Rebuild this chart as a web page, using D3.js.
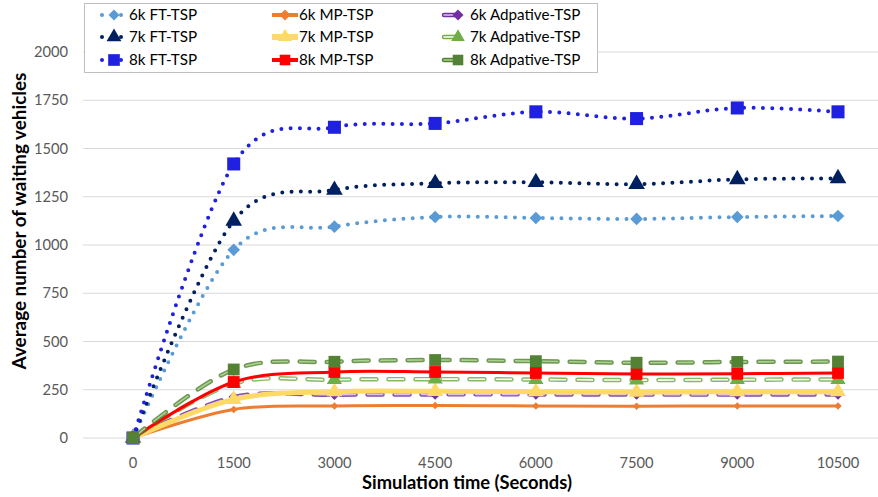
<!DOCTYPE html>
<html>
<head>
<meta charset="utf-8">
<script src="https://cdn.jsdelivr.net/npm/d3@7"></script>
<style>
  body { margin: 0; background: #fff; }
  text { font-family: Lato, "Open Sans", sans-serif; }
</style>
</head>
<body>
<svg id="chart"></svg>
<script>
const width = 878;
const height = 497;

// data
const times = ["0", "1500", "3000", "4500", "6000", "7500", "9000", "10500"];
const yTicks = [0, 250, 500, 750, 1000, 1250, 1500, 1750, 2000];

const ft6k = [0, 975, 1095, 1145, 1140, 1135, 1145, 1150];
const ft7k = [0, 1125, 1285, 1320, 1325, 1315, 1340, 1345];
const ft8k = [0, 1420, 1610, 1630, 1690, 1655, 1710, 1690];
const mp6k = [0, 148, 166, 168, 166, 165, 166, 166];
const mp7k = [0, 200, 240, 242, 240, 238, 240, 240];
const mp8k = [0, 290, 342, 342, 337, 332, 333, 337];
const ad6k = [0, 212, 224, 226, 226, 225, 225, 226];
const ad7k = [0, 282, 302, 305, 303, 300, 302, 303];
const ad8k = [0, 355, 395, 404, 398, 390, 394, 396];

const seriesNames = ["6k FT-TSP", "6k MP-TSP", "6k Adpative-TSP",
                     "7k FT-TSP", "7k MP-TSP", "7k Adpative-TSP",
                     "8k FT-TSP", "8k MP-TSP", "8k Adpative-TSP"];
const seriesValues = [ft6k, mp6k, ad6k, ft7k, mp7k, ad7k, ft8k, mp8k, ad8k];

// style per series (same order as names)
const styles = [
  {kind: "dot",  color: "#5b9bd5", marker: "diamond",  size: 80},
  {kind: "line", color: "#ed7d31", marker: "diamond",  size: 28, w: 3},
  {kind: "dash", color: "#7030a0", inner: "#d9c3e8", marker: "diamond", size: 55},
  {kind: "dot",  color: "#002060", marker: "triangle", size: 120},
  {kind: "line", color: "#ffd966", marker: "triangle", size: 110, w: 5},
  {kind: "dash", color: "#70ad47", inner: "#ffffff", marker: "triangle", size: 100},
  {kind: "dot",  color: "#2020e0", marker: "square",   size: 170},
  {kind: "line", color: "#ff0000", marker: "square",   size: 140, w: 3},
  {kind: "dash", color: "#548235", inner: "#a9d18e", marker: "square", size: 140}
];

const svg = d3.select("#chart")
  .attr("width", width)
  .attr("height", height);

const x = d3.scalePoint().domain(times).range([133, 838]);
const y = d3.scaleLinear().domain([0, 2000]).range([438, 52]);

// scale a text's font size so it spans the width seen in the reference
function fit(sel, target) {
  const base = parseFloat(sel.style("font-size"));
  const w = sel.node().getComputedTextLength();
  sel.style("font-size", (base * target / w).toFixed(2) + "px");
}

// gridlines
svg.append("g")
  .selectAll("line")
  .data(yTicks)
  .join("line")
    .attr("x1", 83)
    .attr("x2", 878)
    .attr("y1", d => y(d))
    .attr("y2", d => y(d))
    .style("stroke", "#d9d9d9")
    .style("stroke-width", 1);

// y tick labels
svg.append("g")
  .selectAll("text")
  .data(yTicks)
  .join("text")
    .attr("x", 68)
    .attr("y", d => y(d) + 5)
    .attr("text-anchor", "end")
    .style("fill", "#595959")
    .style("font-size", "14.7px")
    .text(d => d);

// x tick labels
svg.append("g")
  .selectAll("text")
  .data(times)
  .join("text")
    .attr("x", d => x(d))
    .attr("y", 468)
    .attr("text-anchor", "middle")
    .style("fill", "#595959")
    .style("font-size", "14.7px")
    .text(d => d);

// axis titles
svg.append("text")
  .attr("x", 467)
  .attr("y", 489)
  .attr("text-anchor", "middle")
  .style("font-weight", "bold")
  .style("font-size", "16px")
  .text("Simulation time (Seconds)")
  .call(fit, 210);

svg.append("text")
  .attr("transform", "translate(26,221) rotate(-90)")
  .attr("text-anchor", "middle")
  .style("font-weight", "bold")
  .style("font-size", "16px")
  .text("Average number of waiting vehicles")
  .call(fit, 297);

const symbolType = {diamond: d3.symbolSquare, triangle: d3.symbolTriangle, square: d3.symbolSquare};
const symbolRot = {diamond: 45, triangle: 0, square: 0};

const line = d3.line()
  .x((d, i) => x(times[i]))
  .y(d => y(d))
  .curve(d3.curveCatmullRom.alpha(0));

function drawStroke(g, pathD, st) {
  if (st.kind === "dot") {
    g.append("path").attr("d", pathD)
      .style("fill", "none")
      .style("stroke", st.color)
      .style("stroke-width", 4)
      .style("stroke-linecap", "round")
      .style("stroke-dasharray", "0 9.3");
  } else if (st.kind === "line") {
    g.append("path").attr("d", pathD)
      .style("fill", "none")
      .style("stroke", st.color)
      .style("stroke-width", st.w);
  } else {
    g.append("path").attr("d", pathD)
      .style("fill", "none")
      .style("stroke", st.color)
      .style("stroke-opacity", 0.85)
      .style("stroke-width", 4.5)
      .style("stroke-linecap", "round")
      .style("stroke-dasharray", "15 12");
    g.append("path").attr("d", pathD)
      .style("fill", "none")
      .style("stroke", st.inner)
      .style("stroke-width", 1.6)
      .style("stroke-linecap", "round")
      .style("stroke-dasharray", "15 12");
  }
}

// series
seriesValues.forEach((vals, k) => {
  const st = styles[k];
  const g = svg.append("g");
  drawStroke(g, line(vals), st);
  g.selectAll("path.mk")
    .data(vals)
    .join("path")
      .attr("class", "mk")
      .attr("transform", (d, i) => `translate(${x(times[i])},${y(d)}) rotate(${symbolRot[st.marker]})`)
      .attr("d", d3.symbol().type(symbolType[st.marker]).size(st.size))
      .style("fill", st.color);
});

// legend
const legend = svg.append("g");
legend.append("rect")
  .attr("x", 84.5)
  .attr("y", 3.5)
  .attr("width", 513)
  .attr("height", 69)
  .style("fill", "#fff")
  .style("stroke", "#bfbfbf");

const colX = [100, 272, 442];
const textX = [129, 299, 470];
const rowY = [15, 37, 60];

seriesNames.forEach((name, k) => {
  const st = styles[k];
  const col = k % 3;
  const row = Math.floor(k / 3);
  const cy = rowY[row];
  const g = legend.append("g");
  let mx;
  if (st.kind === "dot") {
    g.append("circle").attr("cx", colX[col] + 2).attr("cy", cy).attr("r", 2).style("fill", st.color);
    g.append("line").attr("x1", colX[col] + 12).attr("x2", colX[col] + 22)
      .attr("y1", cy).attr("y2", cy)
      .style("stroke", st.color).style("stroke-width", 4)
      .style("stroke-linecap", "round").style("stroke-dasharray", "0 9");
    mx = colX[col] + 14;
  } else if (st.kind === "line") {
    g.append("line").attr("x1", colX[col]).attr("x2", colX[col] + 26)
      .attr("y1", cy).attr("y2", cy)
      .style("stroke", st.color).style("stroke-width", st.w + 1);
    mx = colX[col] + 13;
  } else {
    g.append("line").attr("x1", colX[col] + 2).attr("x2", colX[col] + 16)
      .attr("y1", cy).attr("y2", cy)
      .style("stroke", st.color).style("stroke-width", 4.5).style("stroke-linecap", "round");
    g.append("line").attr("x1", colX[col] + 2).attr("x2", colX[col] + 16)
      .attr("y1", cy).attr("y2", cy)
      .style("stroke", st.inner).style("stroke-width", 1.6).style("stroke-linecap", "round");
    mx = colX[col] + 16;
  }
  const lsize = st.marker === "diamond" ? 60 : st.size * 0.8;
  g.append("path")
    .attr("transform", `translate(${mx},${cy}) rotate(${symbolRot[st.marker]})`)
    .attr("d", d3.symbol().type(symbolType[st.marker]).size(lsize))
    .style("fill", st.color);
  g.append("text")
    .attr("x", textX[col])
    .attr("y", cy + 5)
    .style("font-size", "15.2px")
    .style("fill", "#000")
    .text(name);
});
</script>
</body>
</html>
